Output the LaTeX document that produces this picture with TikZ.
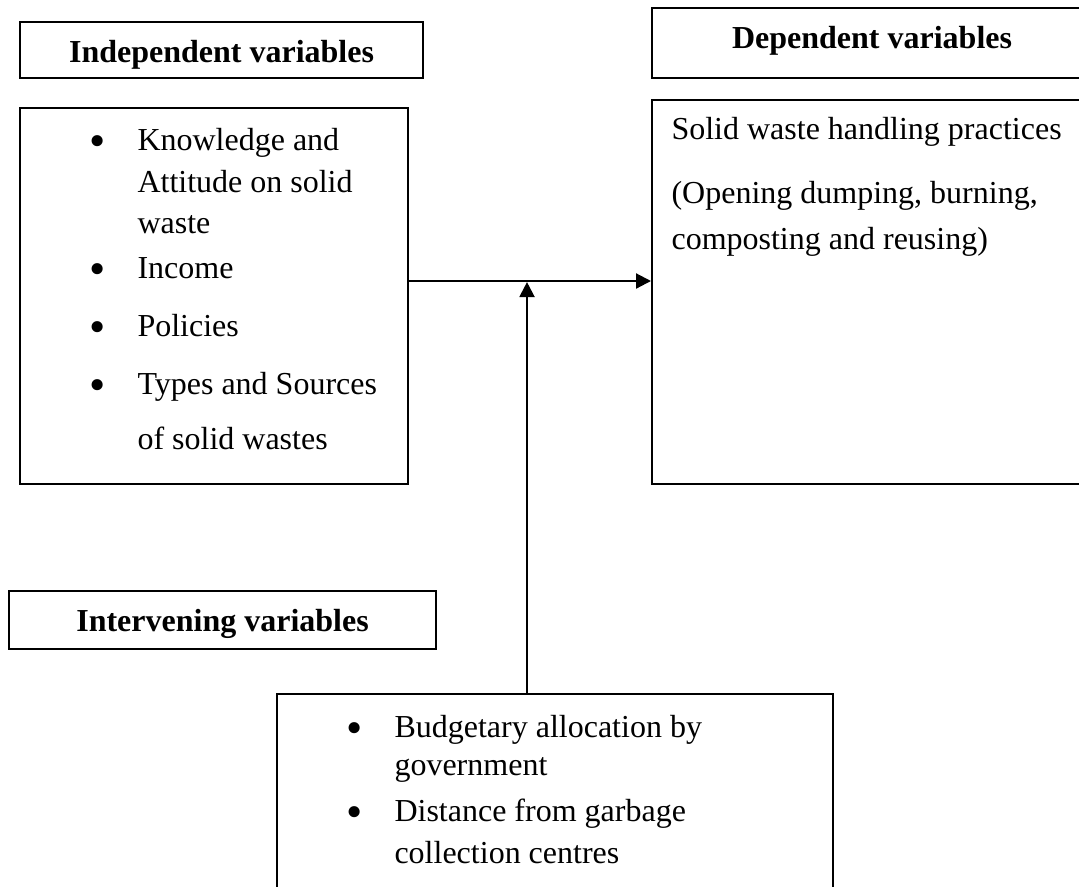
\documentclass[tikz,border=0pt]{standalone}
\usepackage{fontspec}
\setmainfont{Liberation Serif}
\usetikzlibrary{arrows.meta, positioning}

\newcommand\itembullet{\raisebox{-2.4pt}{\scalebox{1.45}{\textbullet}}}

\begin{document}
\begin{tikzpicture}[
    x=0.375pt, y=-0.375pt, % one unit is one pixel of the page
    frame/.style={rectangle, draw, line width=0.8pt, anchor=north west, inner sep=0pt},
    header/.style={frame, font=\bfseries\fontsize{12}{14.25}\selectfont, text height=9pt, text depth=0pt},
    itemlist/.style={anchor=base west, inner sep=0pt, font=\fontsize{12}{14.25}\selectfont},
    arrow/.style={-{Triangle[length=5.6pt, width=5.6pt]}, line width=0.8pt}
]
\useasboundingbox (0,0) rectangle (1079,886);
\clip (0,0) rectangle (1079,886);

% Headers
\node[header, minimum width=151.1pt, minimum height=21pt] (indephead) at (19,21) {Independent variables};
\node[header, minimum width=165pt, minimum height=26.25pt, text height=8pt, text depth=4pt] (dephead) at (651,7) {Dependent variables};
\node[header, minimum width=160.1pt, minimum height=21.75pt, text height=8.2pt] (intvhead) at (8,590) {Intervening variables};

% Boxes
\node[frame, minimum width=145.5pt, minimum height=141pt] (indep) at (19,107) {};
\node[frame, minimum width=165pt, minimum height=144pt] (dep) at (651,99) {};
\node[frame, minimum width=208.5pt, minimum height=82.5pt] (intv) at (276,693) {};

% Box contents
\node[itemlist] (indeplist) at (89,150) {%
  \begin{tabular}[t]{@{}p{18pt}@{}l@{}}
  \itembullet & Knowledge and\\[1.5pt]
              & Attitude on solid\\[1.15pt]
              & waste\\[2.65pt]
  \itembullet & Income\\[7.5pt]
  \itembullet & Policies\\[7.5pt]
  \itembullet & Types and Sources\\[6.35pt]
              & of solid wastes
  \end{tabular}};
\node[itemlist] (deplist) at (671,139) {%
  \begin{tabular}[t]{@{}l@{}}
  Solid waste handling practices\\[9.75pt]
  (Opening dumping, burning,\\[3pt]
  composting and reusing)
  \end{tabular}};
\node[itemlist] (intvlist) at (346,737) {%
  \begin{tabular}[t]{@{}p{18pt}@{}l@{}}
  \itembullet & Budgetary allocation by\\
              & government\\[3pt]
  \itembullet & Distance from garbage\\[1.5pt]
              & collection centres
  \end{tabular}};

% Arrows
\coordinate (meet) at (527,281);
\draw[arrow] (indep.east |- meet) -- (dep.west |- meet);
\draw[arrow] (intv.north -| meet) -- ([yshift=-0.4pt]meet);

\end{tikzpicture}
\end{document}
